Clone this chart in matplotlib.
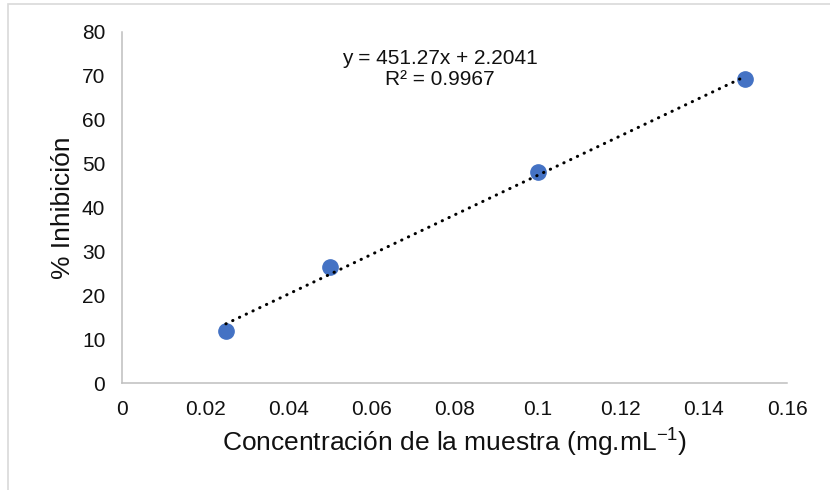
import numpy as np
import matplotlib.pyplot as plt
from matplotlib.patches import Rectangle

plt.rcParams['font.family'] = ['Liberation Sans', 'DejaVu Sans']
plt.rcParams['mathtext.fontset'] = 'custom'
plt.rcParams['mathtext.rm'] = 'Liberation Sans'
plt.rcParams['mathtext.it'] = 'Liberation Sans'

# datos
conc = [0.025, 0.05, 0.1, 0.15]  # mg/mL
inhib = [11.9, 26.4, 48.1, 69.2]  # % inhibicion
m, b = 451.27, 2.2041  # ajuste lineal reportado
r2 = 0.9967

xticks = [0, 0.02, 0.04, 0.06, 0.08, 0.1, 0.12, 0.14, 0.16]
xticklabels = ['0', '0.02', '0.04', '0.06', '0.08', '0.1', '0.12', '0.14', '0.16']
yticks = [0, 10, 20, 30, 40, 50, 60, 70, 80]

fig = plt.figure(figsize=(8.3, 4.9), dpi=100)
ax = fig.add_axes([122 / 830, 1 - 383 / 490, 665 / 830, 351 / 490])

# marco del grafico
fig.patches.append(Rectangle((7.5 / 830, -0.05), 1.1, 1 - 4.5 / 490 + 0.05,
                             transform=fig.transFigure, fill=False,
                             edgecolor='#d9d9d9', linewidth=1.2))

ax.plot(conc, inhib, 'o', color='#4472c4', markersize=11, zorder=2)

xt = np.array([conc[0], conc[-1]])
ax.plot(xt, m * xt + b, color='black', linewidth=2.2,
        linestyle=(0, (0.1, 2.35)), dash_capstyle='round', zorder=3)

ax.text(0.0765, 71.6, 'y = 451.27x + 2.2041\nR² = 0.9967', ha='center',
        va='center', fontsize=15, linespacing=1.15, color='#111111')

ax.set_xlim(0, 0.16)
ax.set_ylim(0, 80)
ax.set_xticks(xticks)
ax.set_xticklabels(xticklabels)
ax.set_yticks(yticks)
ax.tick_params(length=0, pad=12, labelsize=15, colors='#111111')
for s in ['top', 'right']:
    ax.spines[s].set_visible(False)
for s in ['left', 'bottom']:
    ax.spines[s].set_color('#bfbfbf')
    ax.spines[s].set_linewidth(1.1)

ax.set_xlabel(r'Concentración de la muestra (mg.mL$^{\mathregular{-1}}$)',
              fontsize=19, labelpad=6, color='#111111')
ax.set_ylabel('% Inhibición', fontsize=19, labelpad=5, color='#111111')

fig.savefig('out.png', dpi=100)
